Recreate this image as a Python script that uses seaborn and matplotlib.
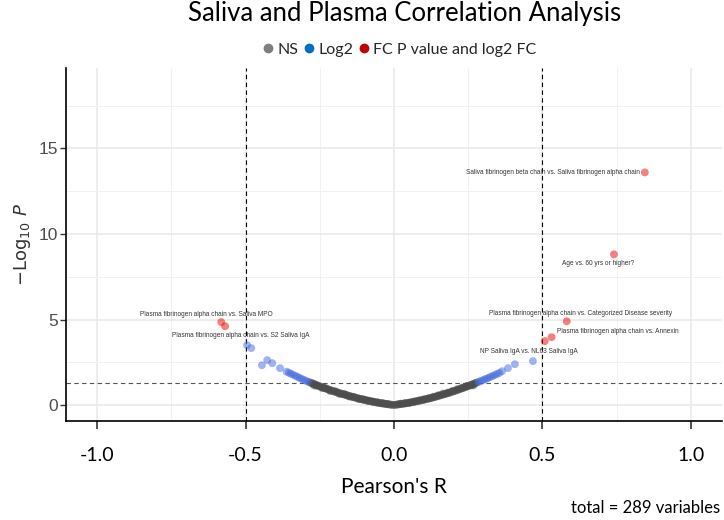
import pandas as pd
import matplotlib
matplotlib.use("Agg")
import matplotlib.pyplot as plt
from matplotlib.lines import Line2D
from matplotlib.ticker import MultipleLocator
import seaborn as sns

# --- Datos ---
# puntos NS (lado negativo y positivo de la V)
ns_r = [-0.284, -0.279, -0.275, -0.271, -0.268, -0.264, -0.260, -0.256, -0.252, -0.248,
        -0.244, -0.240, -0.236, -0.232, -0.228, -0.224, -0.220, -0.216, -0.212, -0.208,
        -0.204, -0.200, -0.196, -0.192, -0.188, -0.184, -0.180, -0.176, -0.172, -0.168,
        -0.164, -0.160, -0.156, -0.152, -0.148, -0.144, -0.140, -0.136, -0.132, -0.128,
        -0.124, -0.120, -0.116, -0.112, -0.108, -0.104, -0.100, -0.096, -0.092, -0.088,
        -0.084, -0.080, -0.076, -0.072, -0.068, -0.064, -0.060, -0.056, -0.052, -0.048,
        -0.044, -0.040, -0.036, -0.032, -0.028, -0.024, -0.020, -0.016, -0.012, -0.008,
        -0.004, -0.270, -0.262, -0.243, -0.231, -0.215, -0.197, -0.183, -0.166, -0.151,
        -0.137, -0.119, -0.103, -0.087, -0.071, -0.055, -0.039, -0.023,
        0.002, 0.006, 0.010, 0.014, 0.018, 0.022, 0.026, 0.030, 0.034, 0.038,
        0.042, 0.046, 0.050, 0.054, 0.058, 0.062, 0.066, 0.070, 0.074, 0.078,
        0.082, 0.086, 0.090, 0.094, 0.098, 0.102, 0.106, 0.110, 0.114, 0.118,
        0.122, 0.126, 0.130, 0.134, 0.138, 0.142, 0.146, 0.150, 0.154, 0.158,
        0.162, 0.166, 0.170, 0.174, 0.178, 0.182, 0.186, 0.190, 0.194, 0.198,
        0.202, 0.206, 0.210, 0.214, 0.218, 0.222, 0.226, 0.230, 0.234, 0.238,
        0.242, 0.246, 0.250, 0.254, 0.258, 0.262, 0.266, 0.270, 0.274, 0.278,
        0.021, 0.037, 0.053, 0.069, 0.085, 0.101, 0.117, 0.133, 0.149, 0.165,
        0.181, 0.197, 0.213, 0.229, 0.245, 0.261, 0.268]
ns_v = [1.33, 1.30, 1.27, 1.24, 1.22, 1.19, 1.16, 1.14, 1.11, 1.08,
        1.06, 1.03, 1.01, 0.98, 0.96, 0.93, 0.91, 0.88, 0.86, 0.84,
        0.81, 0.79, 0.77, 0.74, 0.72, 0.70, 0.68, 0.66, 0.64, 0.62,
        0.60, 0.58, 0.56, 0.54, 0.52, 0.50, 0.48, 0.46, 0.45, 0.43,
        0.41, 0.39, 0.37, 0.36, 0.34, 0.32, 0.31, 0.29, 0.28, 0.26,
        0.25, 0.23, 0.22, 0.20, 0.19, 0.17, 0.16, 0.15, 0.13, 0.12,
        0.11, 0.10, 0.09, 0.08, 0.07, 0.06, 0.05, 0.04, 0.03, 0.02,
        0.01, 1.15, 1.13, 1.00, 0.99, 0.82, 0.80, 0.65, 0.64, 0.50,
        0.48, 0.35, 0.33, 0.24, 0.20, 0.16, 0.12, 0.07,
        0.01, 0.02, 0.03, 0.04, 0.05, 0.06, 0.07, 0.08, 0.09, 0.10,
        0.11, 0.12, 0.13, 0.15, 0.16, 0.17, 0.19, 0.20, 0.22, 0.23,
        0.25, 0.26, 0.28, 0.29, 0.31, 0.32, 0.34, 0.36, 0.37, 0.39,
        0.41, 0.42, 0.44, 0.46, 0.48, 0.50, 0.52, 0.54, 0.56, 0.58,
        0.60, 0.62, 0.64, 0.66, 0.68, 0.70, 0.72, 0.75, 0.77, 0.79,
        0.82, 0.84, 0.86, 0.89, 0.91, 0.94, 0.96, 0.99, 1.01, 1.04,
        1.06, 1.09, 1.12, 1.14, 1.17, 1.20, 1.22, 1.25, 1.28, 1.31,
        0.08, 0.11, 0.15, 0.21, 0.27, 0.33, 0.40, 0.49, 0.57, 0.67,
        0.73, 0.83, 0.93, 1.02, 1.12, 1.16, 1.15]

# puntos Log2 (azules)
log2_r = [-0.495, -0.481, -0.445, -0.427, -0.410, -0.384, -0.362, -0.354, -0.347, -0.340,
          -0.332, -0.325, -0.318, -0.311, -0.304, -0.297, -0.290,
          0.284, 0.290, 0.297, 0.304, 0.311, 0.318, 0.325, 0.332, 0.340, 0.347,
          0.355, 0.364, 0.384, 0.407, 0.468]
log2_v = [3.50, 3.33, 2.33, 2.63, 2.45, 2.16, 1.95, 1.89, 1.83, 1.77,
          1.71, 1.65, 1.59, 1.53, 1.48, 1.42, 1.37,
          1.35, 1.39, 1.44, 1.49, 1.54, 1.59, 1.65, 1.70, 1.76, 1.82,
          1.88, 1.98, 2.16, 2.39, 2.57]

# puntos FC P value and log2 FC (rojos)
fc_r = [-0.582, -0.569, 0.845, 0.741, 0.582, 0.531, 0.508]
fc_v = [4.85, 4.61, 13.60, 8.81, 4.90, 3.97, 3.74]

# etiquetas
etiquetas = [
    ("Plasma fibrinogen alpha chain vs. Saliva MPO", -0.582, 4.85, -15, 8, "center"),
    ("Plasma fibrinogen alpha chain vs. S2 Saliva IgA", -0.569, 4.61, 16, -9, "center"),
    ("Saliva fibrinogen beta chain vs. Saliva fibrinogen alpha chain", 0.845, 13.60, -5, 0, "right"),
    ("Age vs. 60 yrs or higher?", 0.741, 8.81, -16, -9, "center"),
    ("Plasma fibrinogen alpha chain vs. Categorized Disease severity", 0.582, 4.90, 14, 8, "center"),
    ("Plasma fibrinogen alpha chain vs. Annexin", 0.531, 3.97, 66, 6, "center"),
    ("NP Saliva IgA vs. NL63 Saliva IgA", 0.468, 2.57, -4, 10, "center"),
]

df = pd.DataFrame({
    "r": ns_r + log2_r + fc_r,
    "v": ns_v + log2_v + fc_v,
    "grupo": ["NS"] * len(ns_r) + ["Log2"] * len(log2_r) + ["FC"] * len(fc_r),
})

sns.set_theme(style="white")
plt.rcParams["font.family"] = ["Liberation Sans", "DejaVu Sans"]

fig = plt.figure(figsize=(7.24, 5.2), dpi=100)
ax = fig.add_axes([66 / 724, 1 - 421 / 520, 656 / 724, 353 / 520])

paleta = {"NS": "#4d4d4d", "Log2": "royalblue", "FC": "#ee0000"}
sns.scatterplot(data=df, x="r", y="v", hue="grupo", palette=paleta, alpha=0.5,
                s=32, linewidth=0, legend=False, ax=ax, zorder=3)

# lineas de corte
ax.axvline(-0.5, color="black", ls=(0, (4, 3)), lw=0.8, zorder=2)
ax.axvline(0.5, color="black", ls=(0, (4, 3)), lw=0.8, zorder=2)
ax.axhline(1.3, color="#555555", ls=(0, (4, 3)), lw=0.8, zorder=2)

for txt, x, y, dx, dy, ha in etiquetas:
    ax.annotate(txt, (x, y), xytext=(dx, dy), textcoords="offset pixels",
                ha=ha, va="center", fontsize=4.7, color="#333333", zorder=4)

ax.set_xlim(-1.105, 1.105)
ax.set_ylim(-0.93, 19.7)
ax.set_xticks([-1.0, -0.5, 0.0, 0.5, 1.0])
ax.set_xticklabels(["-1.0", "-0.5", "0.0", "0.5", "1.0"], family="Lato", fontsize=14, color="black")
ax.set_yticks([0, 5, 10, 15])
ax.xaxis.set_minor_locator(MultipleLocator(0.25))
ax.yaxis.set_minor_locator(MultipleLocator(2.5))
ax.grid(which="major", color="#e8e8e8", lw=1.1, zorder=0)
ax.grid(which="minor", color="#f1f1f1", lw=0.7, zorder=0)
ax.set_axisbelow(True)
ax.tick_params(axis="y", which="major", length=4, width=1, color="#333333",
               labelsize=12.5, labelcolor="#4d4d4d", pad=2, left=True)
ax.tick_params(axis="x", which="major", length=6, width=1.2, color="#333333",
               pad=13, bottom=True)
ax.tick_params(which="minor", length=0)

for lado in ["top", "right"]:
    ax.spines[lado].set_visible(False)
for lado in ["left", "bottom"]:
    ax.spines[lado].set_color("black")
    ax.spines[lado].set_linewidth(1.2)

ax.set_xlabel("Pearson's R", family="Lato", fontsize=15, color="black")
ax.xaxis.set_label_coords(0.5, -0.16)
ax.set_ylabel(r"$-\mathrm{Log}_{10}\ \mathit{P}$", fontsize=13, color="#333333")
ax.yaxis.set_label_coords(-0.067, 0.5)
ax.yaxis.label.set_va("center")

fig.text(405 / 724, 1 - 14 / 520, "Saliva and Plasma Correlation Analysis",
         ha="center", va="center", family="Lato", fontsize=18.5, color="black")

manejadores = [
    Line2D([], [], marker="o", ls="", color="#7f7f7f", markersize=6, label="NS"),
    Line2D([], [], marker="o", ls="", color="#0070c0", markersize=6, label="Log2"),
    Line2D([], [], marker="o", ls="", color="#c00000", markersize=6, label="FC P value and log2 FC"),
]
fig.legend(handles=manejadores, loc="center", bbox_to_anchor=(400 / 724, 1 - 50 / 520),
           ncol=3, frameon=False, handlelength=0.6, handletextpad=0.25, columnspacing=0.4,
           prop={"family": "Lato", "size": 11.5})

fig.text(720 / 724, 1 - 508 / 520, "total = 289 variables", ha="right", va="center",
         family="Lato", fontsize=12, color="black")

plt.savefig("out.png", dpi=100)
